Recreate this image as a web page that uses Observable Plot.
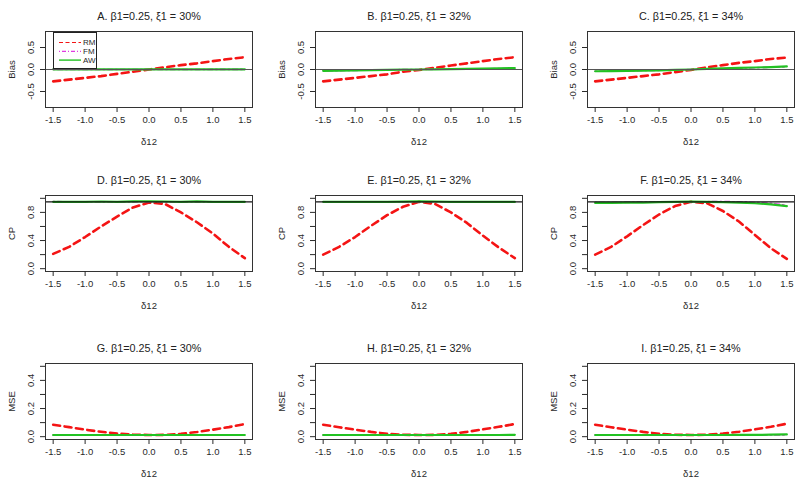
<!DOCTYPE html>
<html><head><meta charset="utf-8">
<script src="https://cdn.jsdelivr.net/npm/d3@7"></script>
<script src="https://cdn.jsdelivr.net/npm/@observablehq/plot@0.6"></script>
<style>
html,body{margin:0;padding:0;background:#fff;overflow:hidden;width:800px;height:483px;}
#root{position:relative;width:800px;height:483px;font-family:"Liberation Sans",Arial,sans-serif;}
.cell{position:absolute;}
.cell svg{display:block;}
</style></head><body><div id="root"></div>
<script>
// ---------- data ----------
const delta = [-1.5,-1.25,-1,-0.75,-0.5,-0.25,0,0.25,0.5,0.75,1,1.25,1.5];
const methods = ["RM","FM","AW"];
const panelTitles = [
  "A. β1=0.25, ξ1 = 30%","B. β1=0.25, ξ1 = 32%","C. β1=0.25, ξ1 = 34%",
  "D. β1=0.25, ξ1 = 30%","E. β1=0.25, ξ1 = 32%","F. β1=0.25, ξ1 = 34%",
  "G. β1=0.25, ξ1 = 30%","H. β1=0.25, ξ1 = 32%","I. β1=0.25, ξ1 = 34%"
];
const metricLabels = ["Bias","CP","MSE"];
const xLabel = "δ12";
const xTickValues = [-1.5,-1,-0.5,0,0.5,1,1.5];
const biasTicks = [-0.5,0,0.5];
const biasTickLabels = [-0.5,0,0.5];
const cpTicks = [0,0.2,0.4,0.6,0.8,1.0];
const cpTickLabels = [0,0.4,0.8];
const mseTicks = [0,0.1,0.2,0.3,0.4,0.5];
const mseTickLabels = [0,0.2,0.4];
const biasRef = 0;
const cpRef = 0.95;

// Bias
const rmA = [-0.27,-0.23,-0.19,-0.15,-0.10,-0.05,0.00,0.05,0.10,0.14,0.19,0.24,0.28];
const fmA = [0.002,0.002,0.001,0.001,0.001,0.000,0.000,0.000,0.001,0.001,0.002,0.002,0.002];
const awA = [0.004,0.004,0.003,0.003,0.003,0.003,0.003,0.003,0.003,0.003,0.004,0.004,0.004];
const rmB = [-0.27,-0.23,-0.19,-0.15,-0.11,-0.05,-0.01,0.04,0.09,0.14,0.19,0.24,0.28];
const fmB = [-0.03,-0.025,-0.02,-0.015,-0.01,-0.002,0.000,0.004,0.01,0.012,0.015,0.02,0.028];
const awB = [-0.03,-0.028,-0.022,-0.016,-0.01,-0.005,0.000,0.005,0.01,0.015,0.02,0.027,0.032];
const rmC = [-0.27,-0.23,-0.19,-0.15,-0.11,-0.06,-0.01,0.05,0.10,0.15,0.19,0.24,0.27];
const fmC = [-0.04,-0.035,-0.028,-0.024,-0.02,-0.012,0.000,0.01,0.022,0.03,0.04,0.05,0.062];
const awC = [-0.04,-0.036,-0.03,-0.025,-0.018,-0.01,0.000,0.014,0.026,0.036,0.046,0.056,0.07];
// CP
const rmD = [0.21,0.31,0.45,0.60,0.74,0.87,0.94,0.92,0.80,0.66,0.50,0.31,0.15];
const fmD = [0.955,0.95,0.95,0.95,0.95,0.95,0.952,0.95,0.95,0.95,0.95,0.952,0.95];
const awD = [0.95,0.95,0.95,0.955,0.95,0.956,0.958,0.955,0.95,0.956,0.95,0.95,0.95];
const rmE = [0.20,0.31,0.45,0.61,0.76,0.88,0.95,0.92,0.80,0.65,0.47,0.30,0.15];
const fmE = [0.95,0.95,0.95,0.95,0.95,0.952,0.952,0.952,0.95,0.95,0.95,0.95,0.952];
const awE = [0.95,0.95,0.95,0.95,0.95,0.952,0.958,0.955,0.95,0.95,0.95,0.95,0.948];
const rmF = [0.20,0.31,0.46,0.62,0.77,0.89,0.95,0.93,0.82,0.67,0.48,0.29,0.14];
const fmF = [0.94,0.94,0.942,0.948,0.95,0.95,0.95,0.952,0.955,0.95,0.94,0.93,0.90];
const awF = [0.935,0.935,0.938,0.94,0.945,0.95,0.955,0.95,0.945,0.94,0.93,0.915,0.89];
// MSE
const rmG = [0.085,0.068,0.050,0.035,0.022,0.015,0.012,0.013,0.020,0.033,0.050,0.068,0.090];
const fmG = [0.011,0.011,0.011,0.011,0.011,0.011,0.011,0.011,0.011,0.011,0.011,0.011,0.011];
const awG = [0.012,0.012,0.012,0.012,0.012,0.012,0.012,0.012,0.012,0.012,0.012,0.012,0.012];
const rmH = [0.085,0.067,0.050,0.034,0.021,0.014,0.012,0.013,0.020,0.034,0.052,0.070,0.090];
const fmH = [0.011,0.011,0.011,0.011,0.011,0.011,0.011,0.011,0.011,0.011,0.011,0.011,0.012];
const awH = [0.012,0.012,0.012,0.012,0.012,0.012,0.012,0.012,0.012,0.012,0.012,0.012,0.013];
const rmI = [0.085,0.067,0.050,0.034,0.021,0.014,0.012,0.014,0.022,0.035,0.052,0.070,0.092];
const fmI = [0.011,0.011,0.011,0.011,0.011,0.011,0.011,0.011,0.011,0.011,0.011,0.012,0.012];
const awI = [0.012,0.012,0.012,0.012,0.012,0.012,0.012,0.012,0.012,0.013,0.013,0.014,0.016];

const panelSeries = [
  [rmA,fmA,awA],[rmB,fmB,awB],[rmC,fmC,awC],
  [rmD,fmD,awD],[rmE,fmE,awE],[rmF,fmF,awF],
  [rmG,fmG,awG],[rmH,fmH,awH],[rmI,fmI,awI]
];

// ---------- styles / layout ----------
const styleOf = {
  RM: {stroke:"#f41414", strokeWidth:2.6, strokeDasharray:"7,4.5"},
  FM: {stroke:"#e03ce0", strokeWidth:1.6, strokeDasharray:"1.5,3,5,3"},
  AW: {stroke:"#22c222", strokeWidth:2.2}
};
const rowCfg = [
  {domain:[-0.864,0.864], ticks:biasTicks, labels:biasTickLabels, ref:biasRef, refColor:"#555"},
  {domain:[-0.04,1.04], ticks:cpTicks, labels:cpTickLabels, ref:cpRef, refColor:"#111"},
  {domain:[-0.02,0.52], ticks:mseTicks, labels:mseTickLabels, ref:null, refColor:"#111"}
];
const colLeft = [0,270,542];
const rowTop = [0,164,332];
const boxW = 207, mL = 45, mT = 31, boxH = 76, H = 164;
const textColor = "#2a2a2a";

const root = document.getElementById("root");
for (let p = 0; p < 9; p++) {
  const r = Math.floor(p/3), c = p % 3;
  const W = c === 2 ? 800 - colLeft[2] : 270;
  const cfg = rowCfg[r];
  const data = [];
  panelSeries[p].forEach((arr, m) => delta.forEach((d, i) => data.push({x:d, y:arr[i], method:methods[m]})));
  const marks = [];
  for (const m of methods) {
    marks.push(Plot.line(data.filter(d => d.method === m), {x:"x", y:"y", ...styleOf[m]}));
  }
  if (cfg.ref !== null) marks.push(Plot.ruleY([cfg.ref], {stroke:cfg.refColor, strokeWidth:1.2}));
  marks.push(Plot.frame({stroke:"#333", strokeWidth:1}));
  marks.push(Plot.axisX(xTickValues, {tickFormat: d => d.toFixed(1), tickSize:5, tickPadding:4, fontSize:9.5, label:null, color:textColor}));
  marks.push(Plot.axisY(cfg.ticks, {text:null, tickSize:5, label:null, color:textColor}));
  marks.push(Plot.text(cfg.labels, {y: d => d, text: d => d.toFixed(1), frameAnchor:"left", textAnchor:"middle", dx:-15, rotate:-90, fontSize:9.5, fill:textColor}));
  marks.push(Plot.text([panelTitles[p]], {text:d=>d, frameAnchor:"top", dy:-19, fontSize:10.8, fill:"#222"}));
  marks.push(Plot.text([xLabel], {text:d=>d, frameAnchor:"bottom", dy:37, fontSize:9.5, fill:textColor}));
  marks.push(Plot.text([metricLabels[r]], {text:d=>d, frameAnchor:"left", textAnchor:"middle", dx:-34, rotate:-90, fontSize:9.5, fill:textColor}));
  const chart = Plot.plot({
    width: W, height: H,
    marginLeft: mL, marginRight: W - mL - boxW, marginTop: mT, marginBottom: H - mT - boxH,
    style: {fontFamily:'"Liberation Sans",Arial,sans-serif', background:"transparent", overflow:"visible"},
    x: {domain:[-1.62,1.62]},
    y: {domain: cfg.domain},
    marks
  });
  const cell = document.createElement("div");
  cell.className = "cell";
  cell.style.left = colLeft[c] + "px";
  cell.style.top = rowTop[r] + "px";
  cell.appendChild(chart);
  root.appendChild(cell);

  if (p === 0) {
    // legend box
    const lg = d3.create("svg").attr("width", 44).attr("height", 37)
      .style("position","absolute").style("left","53px").style("top","32px").style("overflow","visible");
    lg.append("rect").attr("x",0.5).attr("y",0.5).attr("width",43).attr("height",36)
      .attr("fill","#fff").attr("stroke","#222").attr("stroke-width",1);
    methods.forEach((m, i) => {
      const yy = 10.5 + i*8.8;
      lg.append("line").attr("x1",6).attr("x2",28).attr("y1",yy).attr("y2",yy)
        .attr("stroke", styleOf[m].stroke)
        .attr("stroke-width", m === "AW" ? 1.4 : 1.2)
        .attr("stroke-dasharray", m === "RM" ? "4,2.5" : m === "FM" ? "1,2,4,2" : null);
      lg.append("text").attr("x",30).attr("y",yy).attr("dy","0.35em")
        .attr("font-size",8).attr("fill",textColor)
        .attr("font-family",'"Liberation Sans",Arial,sans-serif').text(m);
    });
    cell.appendChild(lg.node());
  }
}
</script></body></html>
